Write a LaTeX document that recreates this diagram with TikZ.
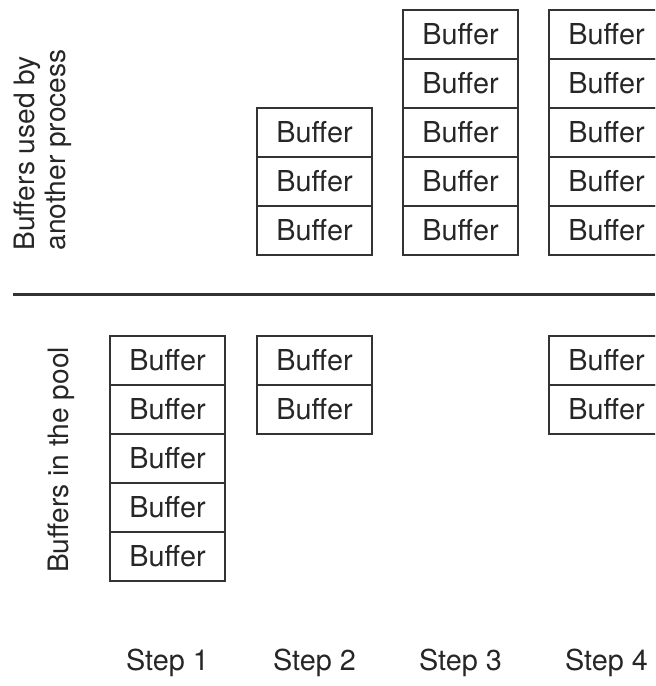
\documentclass[tikz,border=0pt]{standalone}
\usepackage{fontspec}
\setmainfont{TeX Gyre Heros}
\usetikzlibrary{positioning}

\begin{document}
\begin{tikzpicture}[]

\tikzstyle{buf}  = [
  rectangle,
  draw=black!80,
  line width=0.7pt,
  inner sep=0pt,
  outer sep=0pt,
  minimum width=2.3cm,
  minimum height=0.98cm,
  text=black!85,
  font=\fontsize{16.4}{19}\selectfont]
\tikzstyle{side}  = [rotate=90, align=left, text=black!85,
  font=\fontsize{16}{17.8}\selectfont]
\tikzstyle{steplabel}  = [text=black!85, font=\fontsize{16.4}{19}\selectfont]
\tikzstyle{divider}  = [line width=1.7pt, black!80]

\useasboundingbox (0,0) rectangle (13.1,13.72);
\clip (0,0) rectangle (13.1,13.72);

\def\ya{9.11}
\def\yb{6.51}

% buffers used by another process
\node[buf] (u2a) at (6.29,\ya) {Buffer};
\node[buf, above=0pt of u2a] (u2b) {Buffer};
\node[buf, above=0pt of u2b] (u2c) {Buffer};

\node[buf] (u3a) at (9.21,\ya) {Buffer};
\node[buf, above=0pt of u3a] (u3b) {Buffer};
\node[buf, above=0pt of u3b] (u3c) {Buffer};
\node[buf, above=0pt of u3c] (u3d) {Buffer};
\node[buf, above=0pt of u3d] (u3e) {Buffer};

\node[buf] (u4a) at (12.13,\ya) {Buffer};
\node[buf, above=0pt of u4a] (u4b) {Buffer};
\node[buf, above=0pt of u4b] (u4c) {Buffer};
\node[buf, above=0pt of u4c] (u4d) {Buffer};
\node[buf, above=0pt of u4d] (u4e) {Buffer};

% buffers in the pool
\node[buf] (p1a) at (3.35,\yb) {Buffer};
\node[buf, below=0pt of p1a] (p1b) {Buffer};
\node[buf, below=0pt of p1b] (p1c) {Buffer};
\node[buf, below=0pt of p1c] (p1d) {Buffer};
\node[buf, below=0pt of p1d] (p1e) {Buffer};

\node[buf] (p2a) at (6.29,\yb) {Buffer};
\node[buf, below=0pt of p2a] (p2b) {Buffer};

\node[buf] (p4a) at (12.13,\yb) {Buffer};
\node[buf, below=0pt of p4a] (p4b) {Buffer};

% separator
\coordinate (sepw) at (0.26,7.82);
\coordinate (sepe) at (13.1,7.82);
\draw[divider] (sepw) -- (sepe);

\node[side] (used) at (0.86,10.72) {Buffers used by\\another process};
\node[side] (pool) at (1.22,4.52) {Buffers in the pool};

\node[steplabel] (s1) at (3.35,0.46) {Step 1};
\node[steplabel] (s2) at (6.29,0.46) {Step 2};
\node[steplabel] (s3) at (9.21,0.46) {Step 3};
\node[steplabel] (s4) at (12.13,0.46) {Step 4};

\end{tikzpicture}
\end{document}
